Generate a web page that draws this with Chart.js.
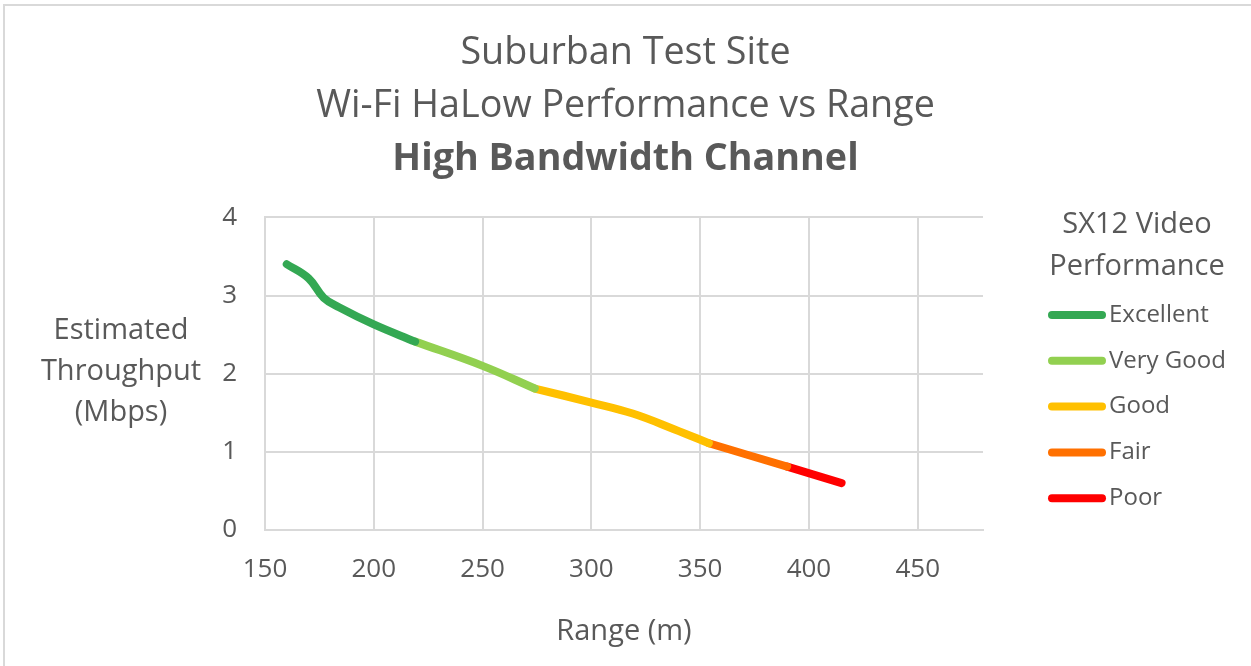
<!DOCTYPE html>
<html>
<head>
<meta charset="utf-8">
<script src="https://cdn.jsdelivr.net/npm/chart.js@4.4.1/dist/chart.umd.min.js"></script>
<style>
  html, body { margin: 0; padding: 0; background: #ffffff; overflow: hidden; }
  #wrap { position: absolute; left: 0; top: 0; width: 1251px; height: 666px; }
  #frame { position: absolute; left: 3px; top: 4px; width: 1300px; height: 700px;
           border-top: 2px solid #d9d9d9; border-left: 2px solid #d9d9d9; pointer-events: none; }
</style>
</head>
<body>
<div id="wrap"><canvas id="c"></canvas></div>
<div id="frame"></div>
<script>
// ---- data ----
const titleLines = ['Suburban Test Site', 'Wi-Fi HaLow Performance vs Range'];
const subtitleText = 'High Bandwidth Channel';
const xAxisTitle = 'Range (m)';
const yAxisTitleLines = ['Estimated', 'Throughput', '(Mbps)'];
const legendTitleLines = ['SX12 Video', 'Performance'];

const seriesNames = ['Excellent', 'Very Good', 'Good', 'Fair', 'Poor'];
const seriesColors = ['#34A853', '#92D050', '#FFC000', '#FF7000', '#FF0000'];

const rangeExcellent = [160, 170, 177, 184, 200, 219];
const tputExcellent  = [3.40, 3.22, 2.97, 2.85, 2.63, 2.41];
const rangeVeryGood  = [219, 250, 274];
const tputVeryGood   = [2.41, 2.10, 1.81];
const rangeGood      = [274, 300, 319, 338, 354];
const tputGood       = [1.81, 1.63, 1.49, 1.29, 1.11];
const rangeFair      = [354, 390];
const tputFair       = [1.11, 0.81];
const rangePoor      = [390, 415];
const tputPoor       = [0.81, 0.60];

const xTicks = [150, 200, 250, 300, 350, 400, 450];
const yTicks = [0, 1, 2, 3, 4];

// ---- build ----
const ranges = [rangeExcellent, rangeVeryGood, rangeGood, rangeFair, rangePoor];
const tputs  = [tputExcellent, tputVeryGood, tputGood, tputFair, tputPoor];
const TEXT = '#595959';
const FONT = "'Open Sans', sans-serif";

const datasets = seriesNames.map((name, i) => ({
  label: name,
  data: ranges[i].map((x, j) => ({ x: x, y: tputs[i][j] })),
  borderColor: seriesColors[i],
  backgroundColor: seriesColors[i],
  borderWidth: 8,
  borderCapStyle: 'round',
  borderJoinStyle: 'round',
  pointRadius: 0,
  pointHoverRadius: 0,
  tension: 0.4,
  fill: false,
  yAxisID: 'y'
}));

const extrasPlugin = {
  id: 'extras',
  afterDraw(chart) {
    const ctx = chart.ctx;
    ctx.save();
    ctx.fillStyle = TEXT;
    ctx.textAlign = 'center';
    ctx.textBaseline = 'middle';
    // y axis title (horizontal, Excel style)
    ctx.font = "29px " + FONT;
    yAxisTitleLines.forEach((t, i) => ctx.fillText(t, 121, 331 + i * 41));
    // legend title
    legendTitleLines.forEach((t, i) => ctx.fillText(t, 1137, 225 + i * 42));
    // legend items
    ctx.font = "24px " + FONT;
    ctx.textAlign = 'left';
    chart.data.datasets.forEach((ds, i) => {
      const y = 315 + i * 45.8;
      ctx.strokeStyle = ds.borderColor;
      ctx.lineWidth = 8;
      ctx.lineCap = 'round';
      ctx.beginPath();
      ctx.moveTo(1052, y);
      ctx.lineTo(1102, y);
      ctx.stroke();
      ctx.fillStyle = TEXT;
      ctx.fillText(ds.label, 1109, y);
    });
    ctx.restore();
  }
};

new Chart(document.getElementById('c'), {
  type: 'line',
  data: { datasets: datasets },
  plugins: [extrasPlugin],
  options: {
    responsive: true,
    maintainAspectRatio: false,
    animation: false,
    events: [],
    layout: { padding: 0 },
    plugins: {
      legend: { display: false },
      tooltip: { enabled: false },
      title: {
        display: true,
        text: titleLines,
        color: TEXT,
        font: { family: FONT, size: 37.7, weight: 'normal', lineHeight: 1.40 },
        padding: { top: 27, bottom: 0 }
      },
      subtitle: {
        display: true,
        text: subtitleText,
        color: TEXT,
        font: { family: FONT, size: 37.7, weight: 'bold', lineHeight: 1.40 },
        padding: { top: 0, bottom: 32 }
      }
    },
    scales: {
      x: {
        type: 'linear',
        min: 150,
        max: 480,
        afterFit(scale) { scale.height = 136; },
        afterBuildTicks(scale) { scale.ticks = xTicks.map(v => ({ value: v })); },
        ticks: {
          stepSize: 50,
          includeBounds: false,
          color: TEXT,
          font: { family: FONT, size: 26 },
          padding: 24,
          maxRotation: 0
        },
        grid: { color: '#d9d9d9', lineWidth: 2, drawTicks: false },
        border: { display: true, color: '#d9d9d9', width: 2 },
        title: {
          display: true,
          text: xAxisTitle,
          color: TEXT,
          font: { family: FONT, size: 29 },
          padding: { top: 0, bottom: 17 }
        }
      },
      y: {
        type: 'linear',
        position: 'left',
        min: 0,
        max: 4,
        afterFit(scale) { scale.width = 265; },
        afterBuildTicks(scale) { scale.ticks = yTicks.map(v => ({ value: v })); },
        ticks: {
          stepSize: 1,
          color: TEXT,
          font: { family: FONT, size: 26 },
          padding: 28
        },
        grid: { color: '#d9d9d9', lineWidth: 2, drawTicks: false },
        border: { display: true, color: '#d9d9d9', width: 2 }
      },
      legendSpace: {
        type: 'linear',
        position: 'right',
        display: true,
        afterFit(scale) { scale.width = 268; },
        ticks: { display: false },
        grid: { display: false, drawTicks: false },
        border: { display: false }
      }
    }
  }
});
</script>
</body>
</html>
